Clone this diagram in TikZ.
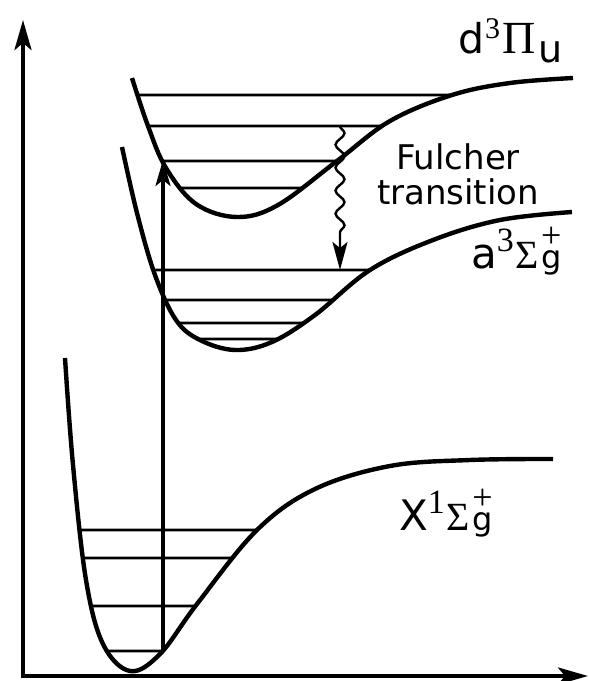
\documentclass[tikz,border=0pt]{standalone}
\usepackage{fontspec}
\setmainfont{DejaVu Sans}
\newfontfamily\lsfont{Liberation Serif}
\usetikzlibrary{arrows.meta,decorations.pathmorphing,intersections}
\newcommand\srf[2]{{\lsfont\fontsize{#1}{#1}\selectfont #2}}
\newcommand\txt[2]{{\fontsize{#1}{#1}\selectfont #2}}
\begin{document}
\begin{tikzpicture}[x=1pt,y=-1pt,
  curve/.style={line width=4.4pt, line join=round},
  vlevel/.style={line width=2.8pt},
  axisline/.style={line width=4pt, line join=miter,
    {Stealth[length=30pt,width=17pt,inset=7pt]}-{Stealth[length=30pt,width=17pt,inset=7pt]}},
  excite/.style={line width=3.2pt, -{Stealth[length=26pt,width=15pt,inset=6pt]}},
  wavy/.style={line width=2.4pt, decorate,
    decoration={snake, amplitude=4.5pt, segment length=23pt, post length=28pt},
    -{Stealth[length=28pt,width=15pt,inset=6pt]}},
  lbl/.style={inner sep=0pt, anchor=base west}]
\useasboundingbox (0,0) rectangle (589,681);
% axes
\coordinate (ytop) at (23,20);
\coordinate (orig) at (23,676);
\coordinate (xend) at (588,676);
\draw[axisline] (ytop) -- (orig) -- (xend);
% X state
\draw[curve, name path=xc] plot[smooth,tension=0.6] coordinates {(65,358) (73,465) (86,580) (103,644) (130,671) (160,654) (197,604) (257,530) (315,489) (390,466) (470,460) (553,459)};
\foreach \yy/\nm in {530/x1,558/x2,606/x3,651/x4}{
  \path[name path=\nm] (30,\yy) -- (580,\yy);
  \draw[vlevel, name intersections={of=xc and \nm}] (intersection-1) -- (intersection-2);
}
% a state
\draw[curve, name path=ac] plot[smooth,tension=0.6] coordinates {(122,147) (137,213) (155,275) (176,320) (200,340) (235,350) (272,342) (315,315) (370,270) (433,240) (500,220) (572,212)};
\foreach \yy/\nm in {270/a1,300/a2,323/a3,339/a4}{
  \path[name path=\nm] (130,\yy) -- (580,\yy);
  \draw[vlevel, name intersections={of=ac and \nm}] (intersection-1) -- (intersection-2);
}
% d state
\draw[curve, name path=dc] plot[smooth,tension=0.6] coordinates {(132,78) (148,126) (166,168) (196,204) (237,217) (278,205) (337,161) (390,121) (452,95) (510,83) (573,78)};
\foreach \yy/\nm in {95/d1,126/d2,161/d3,188/d4}{
  \path[name path=\nm] (130,\yy) -- (580,\yy);
  \draw[vlevel, name intersections={of=dc and \nm}] (intersection-1) -- (intersection-2);
}
% transitions
\coordinate (exbot) at (163,651);
\coordinate (extop) at (163,160);
\draw[excite] (exbot) -- (extop);
\coordinate (fulstart) at (340,126);
\coordinate (fulend) at (340,270);
\draw[wavy] (fulstart) -- (fulend);
% labels
\node[lbl] (dlab) at (458,53) {\txt{41}{d}\hspace{1pt}\raisebox{15pt}{\srf{30}{3}}\hspace{2pt}\srf{46}{Π}\hspace{3pt}\raisebox{-9pt}{\txt{38}{u}}};
\node[lbl] (alab) at (471,268) {\txt{42}{a}\raisebox{17pt}{\srf{34}{3}}\hspace{2pt}\srf{40}{Σ}\hspace{2pt}\rlap{\raisebox{21pt}{\srf{36}{+}}}\txt{32}{g}};
\node[lbl] (xlab) at (399,530) {\txt{42}{X}\raisebox{17pt}{\srf{34}{1}}\hspace{2pt}\srf{40}{Σ}\hspace{2pt}\rlap{\raisebox{21pt}{\srf{36}{+}}}\txt{32}{g}};
\node[font=\fontsize{34}{35}\selectfont, align=center, inner sep=0pt] (ful) at (458,174) {Fulcher\\transition};
\end{tikzpicture}
\end{document}
